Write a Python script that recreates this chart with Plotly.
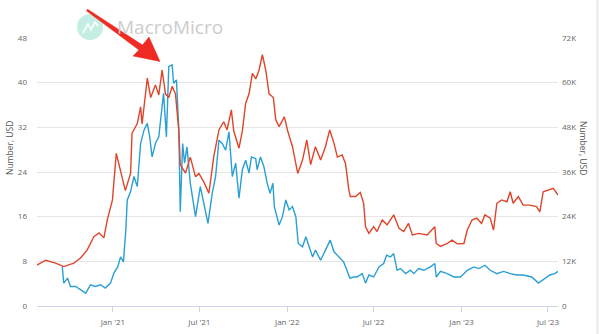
import plotly.graph_objects as go

# ---------------- data ----------------
red_dates = [
    "2020-07-26", "2020-08-13", "2020-09-03", "2020-09-20", "2020-10-11", "2020-10-25",
    "2020-11-08", "2020-11-22", "2020-12-03", "2020-12-13", "2020-12-20", "2020-12-31",
    "2021-01-08", "2021-01-17", "2021-01-27", "2021-02-07", "2021-02-10", "2021-02-21",
    "2021-02-28", "2021-03-03", "2021-03-14", "2021-03-21", "2021-03-31", "2021-04-07",
    "2021-04-14", "2021-04-21", "2021-04-28", "2021-05-05", "2021-05-12", "2021-05-19",
    "2021-05-22", "2021-06-02", "2021-06-12", "2021-06-23", "2021-06-30", "2021-07-10",
    "2021-07-21", "2021-07-31", "2021-08-11", "2021-08-21", "2021-08-28", "2021-09-06",
    "2021-09-11", "2021-09-22", "2021-09-29", "2021-10-06", "2021-10-13", "2021-10-20",
    "2021-10-27", "2021-11-03", "2021-11-10", "2021-11-17", "2021-11-24", "2021-12-03",
    "2021-12-08", "2021-12-15", "2021-12-26", "2022-01-02", "2022-01-12", "2022-01-23",
    "2022-02-02", "2022-02-11", "2022-02-19", "2022-03-01", "2022-03-12", "2022-03-22",
    "2022-03-31", "2022-04-09", "2022-04-16", "2022-04-26", "2022-05-03", "2022-05-10",
    "2022-05-13", "2022-05-24", "2022-06-03", "2022-06-10", "2022-06-14", "2022-06-21",
    "2022-07-01", "2022-07-08", "2022-07-19", "2022-07-29", "2022-08-12", "2022-08-23",
    "2022-09-02", "2022-09-12", "2022-09-20", "2022-10-03", "2022-10-21", "2022-11-06",
    "2022-11-09", "2022-11-18", "2022-12-02", "2022-12-12", "2022-12-23", "2023-01-06",
    "2023-01-13", "2023-01-23", "2023-02-02", "2023-02-12", "2023-02-19", "2023-03-02",
    "2023-03-09", "2023-03-16", "2023-03-26", "2023-04-06", "2023-04-13", "2023-04-19",
    "2023-04-30", "2023-05-10", "2023-05-24", "2023-06-07", "2023-06-14", "2023-06-21",
    "2023-07-05", "2023-07-12", "2023-07-22",
]
red_values = [  # USD (right axis)
    11000, 12300, 11500, 10600, 11500, 12900,
    15000, 18600, 19600, 18300, 23000, 28500,
    41000, 36500, 31000, 35700, 46400, 49000,
    53500, 48900, 61200, 56000, 59400, 56700,
    63400, 57000, 56000, 59000, 57000, 47000,
    38000, 35700, 40000, 34700, 35600, 33400,
    30300, 40000, 47300, 49500, 47300, 52700,
    47000, 42400, 47000, 54500, 57000, 62500,
    61000, 63400, 67500, 63400, 57000, 56000,
    50000, 48200, 50800, 47000, 42800, 35600,
    39200, 44600, 38000, 42800, 39200, 42800,
    47300, 43700, 40000, 40600, 38300, 31200,
    29400, 29400, 30500, 27600, 21300, 19500,
    21300, 20000, 23100, 21800, 24500, 20900,
    20000, 22200, 19100, 19500, 19100, 21300,
    16800, 16000, 16800, 17700, 16700, 16800,
    20400, 23100, 23600, 22200, 24500, 23600,
    20400, 27600, 28500, 28000, 30700, 27600,
    29400, 27100, 27100, 26700, 25300, 30700,
    31200, 31600, 29800,
]

blue_dates = [
    "2020-09-17", "2020-09-20", "2020-09-28", "2020-10-04", "2020-10-15", "2020-10-25",
    "2020-11-05", "2020-11-15", "2020-11-25", "2020-12-06", "2020-12-16", "2020-12-27",
    "2021-01-03", "2021-01-11", "2021-01-17", "2021-01-23", "2021-01-28", "2021-01-31",
    "2021-02-07", "2021-02-14", "2021-02-21", "2021-02-28", "2021-03-07", "2021-03-14",
    "2021-03-19", "2021-03-24", "2021-03-31", "2021-04-07", "2021-04-14", "2021-04-17",
    "2021-04-23", "2021-04-28", "2021-05-05", "2021-05-08", "2021-05-14", "2021-05-19",
    "2021-05-22", "2021-05-27", "2021-05-31", "2021-06-05", "2021-06-12", "2021-06-23",
    "2021-07-03", "2021-07-10", "2021-07-19", "2021-07-28", "2021-08-04", "2021-08-11",
    "2021-08-18", "2021-08-25", "2021-09-01", "2021-09-08", "2021-09-15", "2021-09-22",
    "2021-09-29", "2021-10-06", "2021-10-13", "2021-10-18", "2021-10-27", "2021-10-30",
    "2021-11-06", "2021-11-13", "2021-11-20", "2021-11-26", "2021-12-02", "2021-12-05",
    "2021-12-15", "2021-12-22", "2021-12-29", "2022-01-05", "2022-01-12", "2022-01-19",
    "2022-01-24", "2022-02-02", "2022-02-09", "2022-02-16", "2022-02-23", "2022-03-01",
    "2022-03-12", "2022-03-22", "2022-04-01", "2022-04-09", "2022-04-19", "2022-04-29",
    "2022-05-06", "2022-05-12", "2022-05-20", "2022-05-27", "2022-06-07", "2022-06-14",
    "2022-06-21", "2022-07-01", "2022-07-12", "2022-07-22", "2022-07-28", "2022-08-05",
    "2022-08-12", "2022-08-19", "2022-08-26", "2022-09-06", "2022-09-16", "2022-09-23",
    "2022-10-03", "2022-10-14", "2022-10-28", "2022-11-06", "2022-11-09", "2022-11-18",
    "2022-12-02", "2022-12-16", "2022-12-30", "2023-01-13", "2023-01-27", "2023-02-06",
    "2023-02-19", "2023-03-02", "2023-03-16", "2023-03-30", "2023-04-13", "2023-04-27",
    "2023-05-10", "2023-05-28", "2023-06-11", "2023-06-25", "2023-07-05", "2023-07-15",
    "2023-07-22",
]
blue_values = [  # USD (left axis)
    7.0, 4.1, 5.0, 3.5, 3.5, 2.9,
    2.3, 3.8, 3.5, 3.8, 3.2, 4.1,
    5.9, 7.0, 8.8, 7.9, 13.6, 19.0,
    20.5, 23.2, 21.4, 29.1, 31.5, 32.7,
    30.3, 26.7, 29.1, 30.3, 35.1, 38.1,
    30.3, 42.9, 43.2, 39.9, 40.5, 31.5,
    16.9, 29.1, 25.6, 28.5, 22.0, 16.0,
    21.4, 18.4, 14.8, 20.2, 23.2, 29.7,
    29.1, 27.9, 31.2, 23.2, 25.6, 19.3,
    24.4, 26.1, 23.8, 26.7, 26.4, 24.4,
    26.7, 25.0, 22.0, 20.2, 22.0, 17.8,
    14.5, 16.0, 19.0, 17.2, 17.8, 16.0,
    11.2, 10.6, 12.4, 10.6, 8.8, 10.0,
    8.2, 10.0, 11.8, 9.7, 8.8, 7.9,
    6.4, 5.0, 5.2, 5.2, 5.8, 4.1,
    5.55, 5.2, 7.0, 7.6, 9.1, 8.8,
    9.4, 6.4, 6.7, 5.8, 6.4, 5.8,
    6.7, 6.4, 7.0, 7.6, 5.2, 6.2,
    5.8, 5.2, 5.2, 6.4, 7.0, 6.7,
    7.3, 6.4, 5.8, 6.2, 5.8, 5.55,
    5.55, 5.2, 4.1, 5.0, 5.55, 5.8,
    6.2,
]

x_tick_vals = ["2021-01-01", "2021-07-01", "2022-01-01", "2022-07-01", "2023-01-01", "2023-07-01"]
x_tick_text = ["Jan '21", "Jul '21", "Jan '22", "Jul '22", "Jan '23", "Jul '23"]
left_tick_vals = [0, 8, 16, 24, 32, 40, 48]
right_tick_vals = [0, 12000, 24000, 36000, 48000, 60000, 72000]
right_tick_text = ["0", "12K", "24K", "36K", "48K", "60K", "72K"]
axis_title = "Number, USD"
watermark = "MacroMicro"

# ---------------- layout geometry ----------------
W, H = 600, 334
ML, MR, MT, MB = 37, 42, 38, 28
PW, PH = W - ML - MR, H - MT - MB


def px(xp):
    return (xp - ML) / PW


def py(yp):
    return (H - MB - yp) / PH


RED = "#e0442a"
BLUE = "#2a9fd4"
TICKC = "#666666"
FONT = "Open Sans"

fig = go.Figure()
fig.add_trace(go.Scatter(x=blue_dates, y=blue_values, mode="lines", yaxis="y",
                         line=dict(color=BLUE, width=1.4), name="blue", showlegend=False))
fig.add_trace(go.Scatter(x=red_dates, y=red_values, mode="lines", yaxis="y2",
                         line=dict(color=RED, width=1.4), name="red", showlegend=False))

fig.update_layout(
    width=W, height=H,
    margin=dict(l=ML, r=MR, t=MT, b=MB, autoexpand=False),
    paper_bgcolor="white", plot_bgcolor="white",
    font=dict(family=FONT, size=8, color=TICKC),
    showlegend=False,
    xaxis=dict(
        type="date", range=["2020-07-26", "2023-07-22"],
        tickvals=x_tick_vals, ticktext=x_tick_text,
        ticks="outside", ticklen=5, tickcolor="#ccd6eb",
        showline=True, linecolor="#ccd6eb", linewidth=1,
        showgrid=False, zeroline=False, automargin=False,
        tickfont=dict(size=8, color=TICKC),
        ticklabelstandoff=3,
    ),
    yaxis=dict(
        range=[0, 48], tickvals=left_tick_vals,
        showgrid=True, gridcolor="#e6e6e6", gridwidth=1,
        zeroline=False, showline=False, ticks="", automargin=False,
        tickfont=dict(size=8, color=TICKC),
        ticklabelstandoff=9,
    ),
    yaxis2=dict(
        range=[0, 72000], tickvals=right_tick_vals, ticktext=right_tick_text,
        overlaying="y", side="right", automargin=False,
        showgrid=False, zeroline=False, showline=False, ticks="",
        tickfont=dict(size=8, color=TICKC),
        ticklabelstandoff=3,
    ),
)

# axis titles
fig.add_annotation(text=axis_title, xref="paper", yref="paper", x=px(9), y=py(148),
                   xanchor="center", yanchor="middle",
                   textangle=-90, showarrow=False, font=dict(size=8.5, color="#555555"))
fig.add_annotation(text=axis_title, xref="paper", yref="paper", x=px(584), y=py(148),
                   xanchor="center", yanchor="middle",
                   textangle=90, showarrow=False, font=dict(size=8.5, color="#555555"))

# watermark logo
fig.add_shape(type="circle", xref="paper", yref="paper",
              x0=px(77), x1=px(103), y0=py(40), y1=py(14),
              fillcolor="#c4eee4", line=dict(width=0), layer="above")
icon = [(83, 33), (88, 24), (91, 30), (95, 22), (98, 26)]
path = "M " + " L ".join(f"{px(a):.5f},{py(b):.5f}" for a, b in icon)
fig.add_shape(type="path", path=path, xref="paper", yref="paper",
              line=dict(color="white", width=1.6), layer="above")
fig.add_annotation(text=watermark, xref="paper", yref="paper", x=px(170), y=py(27),
                   xanchor="center", yanchor="middle",
                   showarrow=False, font=dict(family=FONT, size=19, color="#cccccc"))

# red arrow
arrow = [(86.4, 10.8), (139, 50), (133, 56), (160, 61.5), (149, 37), (142.5, 45), (87.6, 9.2)]
apath = "M " + " L ".join(f"{px(a):.5f},{py(b):.5f}" for a, b in arrow) + " Z"
fig.add_shape(type="path", path=apath, xref="paper", yref="paper",
              fillcolor="#ee2a22", line=dict(color="#ee2a22", width=0.5), layer="above")

# right border line of the page frame
fig.add_shape(type="line", xref="paper", yref="paper",
              x0=px(597.5), x1=px(597.5), y0=py(H), y1=py(0),
              line=dict(color="#e8e8e8", width=2))

fig.write_html("out.html")
